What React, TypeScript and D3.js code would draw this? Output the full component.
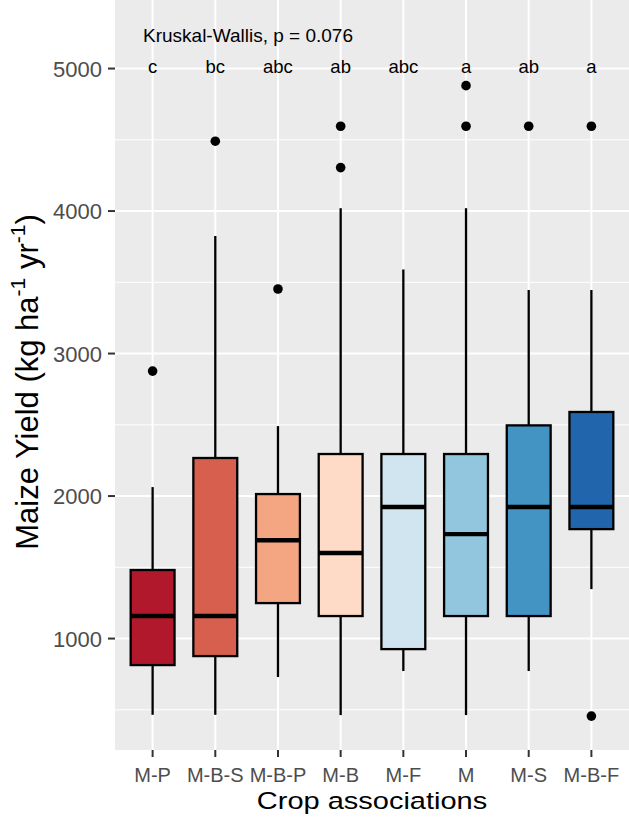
import React from "react";
import * as d3 from "d3";

const categories = ["M-P", "M-B-S", "M-B-P", "M-B", "M-F", "M", "M-S", "M-B-F"];
const whiskerLow = [465, 465, 730, 463, 772, 463, 772, 1347];
const q1 = [814, 877, 1249, 1158, 926, 1158, 1158, 1768];
const median = [1158, 1158, 1690, 1600, 1923, 1733, 1923, 1923];
const q3 = [1481, 2267, 2014, 2295, 2295, 2295, 2496, 2590];
const whiskerHigh = [2063, 3825, 2491, 4020, 3590, 4020, 3446, 3446];
const outliers = [[2877], [4490], [3453], [4595, 4305], [], [4880, 4595], [4595], [4595, 456]];
const letters = ["c", "bc", "abc", "ab", "abc", "a", "ab", "a"];
const colors = ["#B2182B", "#D6604D", "#F4A582", "#FDDBC7", "#D1E5F0", "#92C5DE", "#4393C3", "#2166AC"];
const yTicks = [1000, 2000, 3000, 4000, 5000];
const yMinor = [500, 1500, 2500, 3500, 4500];
const testLabel = "Kruskal-Wallis, p = 0.076";
const letterY = 5000;

const W = 629, H = 818;
const panel = { left: 115, right: 629, top: 0, bottom: 750 };
const FONT = "'Liberation Sans', Arial, sans-serif";

export default function App() {
  const xp = d3.scalePoint<string>().domain(categories).range([panel.left, panel.right]).padding(0.6);
  const step = xp.step();
  const y = d3.scaleLinear().domain([218, 5481]).range([panel.bottom, panel.top]);
  const boxW = step * 0.7;

  return (
    <svg width={W} height={H} style={{ position: "absolute", left: 0, top: 0, background: "#fff" }} fontFamily={FONT}>
      <rect x={panel.left} y={panel.top} width={panel.right - panel.left} height={panel.bottom - panel.top} fill="#EBEBEB" />
      {yMinor.map((v) => (
        <line key={"mn" + v} x1={panel.left} x2={panel.right} y1={y(v)} y2={y(v)} stroke="#fff" strokeWidth={1} />
      ))}
      {yTicks.map((v) => (
        <line key={"mj" + v} x1={panel.left} x2={panel.right} y1={y(v)} y2={y(v)} stroke="#fff" strokeWidth={2} />
      ))}
      {categories.map((c) => (
        <line key={"vx" + c} x1={xp(c)} x2={xp(c)} y1={panel.top} y2={panel.bottom} stroke="#fff" strokeWidth={2} />
      ))}
      {categories.map((c, i) => {
        const cx = xp(c)!;
        return (
          <g key={"box" + c}>
            <line x1={cx} x2={cx} y1={y(q3[i])} y2={y(whiskerHigh[i])} stroke="#000" strokeWidth={2.3} />
            <line x1={cx} x2={cx} y1={y(q1[i])} y2={y(whiskerLow[i])} stroke="#000" strokeWidth={2.3} />
            <rect x={cx - boxW / 2} y={y(q3[i])} width={boxW} height={y(q1[i]) - y(q3[i])} fill={colors[i]} stroke="#000" strokeWidth={2.3} />
            <line x1={cx - boxW / 2} x2={cx + boxW / 2} y1={y(median[i])} y2={y(median[i])} stroke="#000" strokeWidth={4.4} />
            {outliers[i].map((v, j) => (
              <circle key={j} cx={cx} cy={y(v)} r={4.8} fill="#000" />
            ))}
            <text x={cx} y={y(letterY) + 4.5} textAnchor="middle" fontSize={18.5} fill="#000">{letters[i]}</text>
          </g>
        );
      })}
      <text x={143} y={42} fontSize={19} fill="#000">{testLabel}</text>
      {yTicks.map((v) => (
        <g key={"yt" + v}>
          <line x1={108} x2={panel.left} y1={y(v)} y2={y(v)} stroke="#333" strokeWidth={2} />
          <text x={102} y={y(v) + 8} textAnchor="end" fontSize={22} fill="#4D4D4D">{v}</text>
        </g>
      ))}
      {categories.map((c) => (
        <g key={"xt" + c}>
          <line x1={xp(c)} x2={xp(c)} y1={panel.bottom} y2={panel.bottom + 7} stroke="#333" strokeWidth={2} />
          <text x={xp(c)} y={782} textAnchor="middle" fontSize={20} fill="#4D4D4D">{c}</text>
        </g>
      ))}
      <text transform={`translate(${(panel.left + panel.right) / 2},809) scale(1,0.85)`} textAnchor="middle" fontSize={29} fill="#000">Crop associations</text>
      <text transform={`translate(38,382) rotate(-90)`} textAnchor="middle" fontSize={31} fill="#000">
        Maize Yield (kg ha<tspan fontSize={21} dy={-13}>-1</tspan><tspan dy={13}> yr</tspan><tspan fontSize={21} dy={-13}>-1</tspan><tspan dy={13}>)</tspan>
      </text>
    </svg>
  );
}
